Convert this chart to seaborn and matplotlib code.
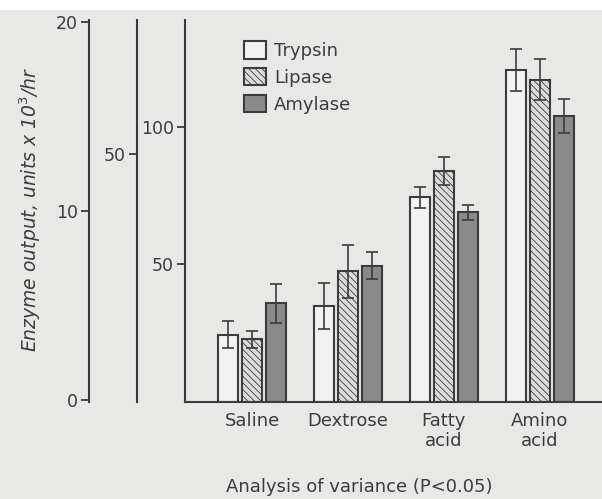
import matplotlib
matplotlib.use("Agg")
import matplotlib.pyplot as plt
import seaborn as sns
import pandas as pd
import numpy as np

# ---- data (values in units of the innermost y-axis) ----
categories = ["Saline", "Dextrose", "Fatty\nacid", "Amino\nacid"]
enzymes = ["Trypsin", "Lipase", "Amylase"]
trypsin = [24.5, 34.9, 74.4, 120.7]
lipase = [22.8, 47.5, 84.0, 117.2]
amylase = [35.9, 49.6, 69.0, 104.0]
trypsin_err = [4.9, 8.2, 3.9, 7.6]
lipase_err = [3.0, 9.6, 5.0, 7.5]
amylase_err = [7.0, 5.0, 2.8, 6.1]
main_ticks = [50, 100]
mid_ticks = [50]
left_ticks = [0, 10, 20]

sns.set_theme(style="white")
plt.rcParams["font.family"] = ["DejaVu Sans"]
plt.rcParams["hatch.color"] = "#6a6a6a"
plt.rcParams["hatch.linewidth"] = 0.6

paper = "#e8e8e6"
ink = "#3c3c3c"

rows = []
for e, vals in zip(enzymes, [trypsin, lipase, amylase]):
    for c, v in zip(categories, vals):
        rows.append({"Condition": c, "Enzyme": e, "Output": v})
df = pd.DataFrame(rows)

W, H = 602, 499
fig = plt.figure(figsize=(W / 100, H / 100), dpi=100, facecolor=paper)
fig.patches.append(plt.Rectangle((0, 1 - 10 / H), 1, 10 / H, transform=fig.transFigure,
                                 facecolor="white", edgecolor="none", zorder=-1))
ax = fig.add_axes([185 / W, 1 - 402 / H, (W - 185) / W, (402 - 20) / H])
ax.set_facecolor("none")

palette = {"Trypsin": "#f2f2f0", "Lipase": "#dcdcda", "Amylase": "#8a8a88"}
sns.barplot(data=df, x="Condition", y="Output", hue="Enzyme", order=categories,
            hue_order=enzymes, palette=palette, errorbar=None, width=0.75, gap=0.17,
            edgecolor=ink, linewidth=1.5, legend=False, ax=ax, saturation=1)

bar_containers = list(ax.containers)
for p in bar_containers[1].patches:
    p.set_hatch("\\\\\\\\\\")
    p.set_edgecolor(ink)

errs = [trypsin_err, lipase_err, amylase_err]
vals_all = [trypsin, lipase, amylase]
for j in range(3):
    xs = np.arange(len(categories)) + (j - 1) * 0.25
    ax.errorbar(xs, vals_all[j], yerr=errs[j], fmt="none", ecolor=ink,
                elinewidth=1.2, capsize=4, capthick=1.2, zorder=5)

ax.set_xlim(-0.70, 3.65)
ax.set_ylim(0, 138.9)
ax.set_xlabel("")
ax.set_ylabel("")
ax.set_yticks(main_ticks)
ax.set_yticklabels([str(t) for t in main_ticks])
ax.set_xticks(range(len(categories)))
ax.set_xticklabels(categories, fontsize=13, color=ink, linespacing=1.15)
ax.tick_params(axis="x", length=0, pad=7)
ax.tick_params(axis="y", direction="out", length=6, width=1.3, color=ink,
               labelsize=12.5, labelcolor=ink, pad=2, left=True)
for s in ["top", "right"]:
    ax.spines[s].set_visible(False)
for s in ["left", "bottom"]:
    ax.spines[s].set_color(ink)
    ax.spines[s].set_linewidth(1.5)

ax_w = (W - 185)
k_mid = 2.75 / 4.96
sec_mid = ax.secondary_yaxis(-48 / ax_w, functions=(lambda v: v * k_mid, lambda v: v / k_mid))
sec_mid.set_yticks(mid_ticks)
k_left = 2.75 / 18.9
off = 0.727
sec_left = ax.secondary_yaxis(-96 / ax_w, functions=(lambda v: (v - off) * k_left,
                                                      lambda v: v / k_left + off))
sec_left.set_yticks(left_ticks)
for sa in (sec_mid, sec_left):
    sa.spines["left"].set_color(ink)
    sa.spines["left"].set_linewidth(1.5)
    sa.tick_params(direction="out", length=6, width=1.3, color=ink,
                   labelsize=12.5, labelcolor=ink, pad=2)

fig.text(30 / W, 1 - 209 / H, "Enzyme output, units x 10$^3$/hr", rotation=90,
         ha="center", va="center", fontsize=13.5, style="italic", color=ink)
fig.text(359 / W, 1 - 487 / H, "Analysis of variance (P<0.05)", ha="center",
         va="center", fontsize=13, color=ink)

handles = [c.patches[0] for c in bar_containers]
leg = ax.legend(handles, enzymes, loc="upper left", bbox_to_anchor=(52 / ax_w, 1 - 14 / 382),
                frameon=False, fontsize=13, handlelength=1.2, handleheight=1.1,
                handletextpad=0.45, labelspacing=0.45, borderaxespad=0,
                labelcolor=ink)

fig.savefig("out.png", dpi=100, facecolor=paper)
